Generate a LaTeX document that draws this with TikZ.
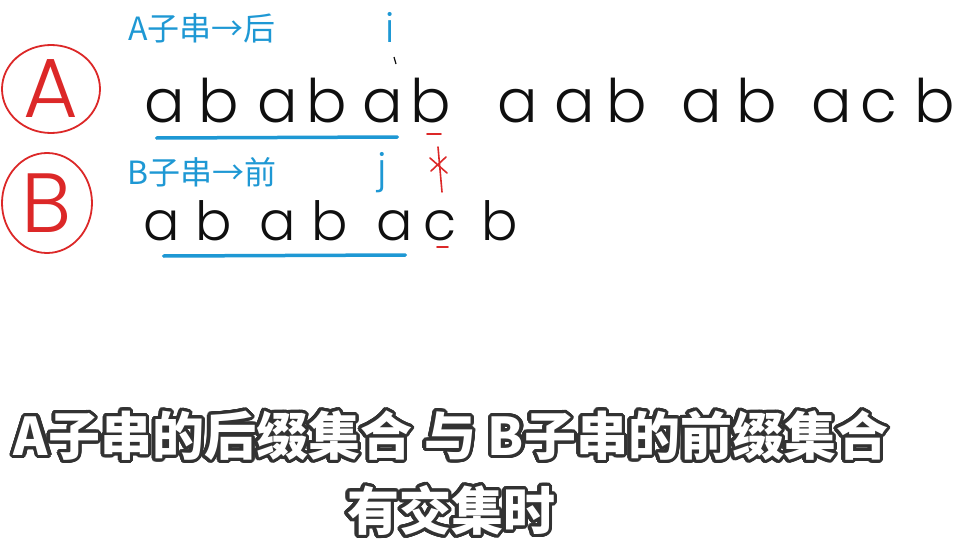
\documentclass[tikz,border=0pt]{standalone}
\usepackage{fontspec}
\usepackage{contour}
\setmainfont{Poppins}
\newfontfamily\hand{Poppins Light}
\newfontfamily\cjk{Noto Sans CJK SC}
\usetikzlibrary{calc,positioning,shapes.geometric}
\definecolor{pen}{RGB}{15,15,15}
\definecolor{mark}{RGB}{220,40,40}
\definecolor{note}{RGB}{30,152,212}
\definecolor{rim}{RGB}{50,50,50}
\contourlength{3.2pt}
\contournumber{32}

\begin{document}
\begin{tikzpicture}[
  x=1pt, y=-1pt,
  letter/.style={font=\hand\fontsize{60}{60}\selectfont, text=pen, inner sep=0pt, anchor=base},
  lowletter/.style={letter, font=\hand\fontsize{54}{54}\selectfont},
  ring/.style={ellipse, draw=mark, line width=1.8pt, text=mark, inner sep=0pt, font=\hand\fontsize{84}{84}\selectfont},
  tag/.style={text=note, inner sep=0pt, anchor=west, font=\cjk\fontsize{32}{32}\selectfont},
  underline/.style={draw=note, line width=3.5pt, line cap=round},
  redmark/.style={draw=mark, line width=1.6pt, line cap=round},
  caption/.style={text=white, inner sep=0pt, font=\cjk\bfseries\fontsize{52}{52}\selectfont}
]
\path[use as bounding box, fill=white] (0,0) rectangle (967,554);

% circled labels
\node[ring, minimum width=98, minimum height=88] (ringA) at (51,89) {A};
\node[ring, minimum width=90, minimum height=100] (ringB) at (47,203) {B};

% top string
\foreach \ch/\x [count=\k] in {a/165,b/219,a/278,b/327,a/383,b/431,a/518,a/575,b/627,a/702,b/757,a/832,c/879,b/935}
  \node[letter] (up\k) at (\x,122) {\ch};
% bottom string
\foreach \ch/\x [count=\k] in {a/162,b/214,a/278,b/330,a/395,c/440,b/500}
  \node[lowletter] (dn\k) at (\x,240) {\ch};

% blue notes
\node[tag] (noteA) at (128,28) {A子串→后};
\node[tag] (noteB) at (127,172) {B子串→前};
\node[letter, text=note, font=\hand\fontsize{40}{40}\selectfont] (ptrI) at (390,42) {i};
\node[letter, text=note, font=\hand\fontsize{40}{40}\selectfont] (ptrJ) at (382,182) {j};
\draw[pen, line width=1.2pt] (394,57) -- (396,64);

% matched parts
\draw[underline] ($(up1.base west)+(12,16)$) -- ($(up5.base east)+(-6,15)$);
\draw[underline] ($(dn1.base west)+(20,16)$) -- ($(dn5.base east)+(-8,15)$);

% mismatch b / c
\draw[redmark] (427,134) -- (441,134);
\draw[redmark] (438,147) -- (442,192);
\draw[redmark] (430,158) -- (447,173);
\draw[redmark] (446,157) -- (431,171);
\draw[redmark] (437,247) -- (448,247);

% caption
\node[caption] (capA) at (451,437) {\contour{rim}{A子串的后缀集合 与 B子串的前缀集合}};
\node[caption] (capB) at (451,512) {\contour{rim}{有交集时}};
\end{tikzpicture}
\end{document}
